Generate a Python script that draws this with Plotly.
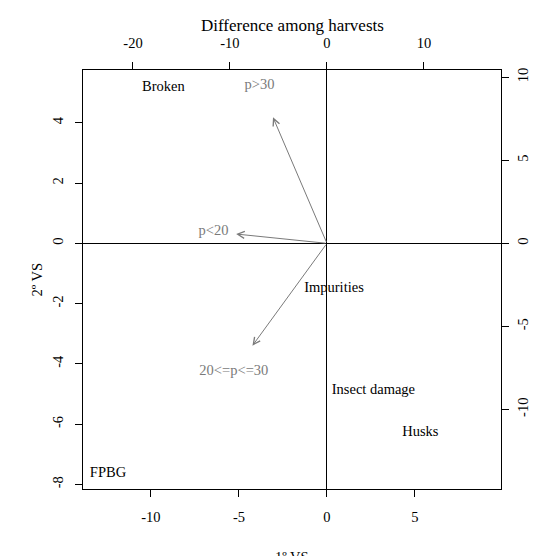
import plotly.graph_objects as go

# --- data ---
obs_labels = ["Broken", "Impurities", "Insect damage", "Husks", "FPBG"]
obs_x = [-9.29, 0.40, 2.64, 5.31, -12.44]
obs_y = [5.19, -1.48, -4.87, -6.27, -7.62]

var_labels = ["p>30", "p<20", "20<=p<=30"]
var_x = [-6.95, -11.70, -9.60]
var_y = [9.48, 0.70, -7.70]
arrow_frac = 0.8

x1_ticks = [-10, -5, 0, 5]
y1_ticks = [-8, -6, -4, -2, 0, 2, 4]
x2_ticks = [-20, -10, 0, 10]
y2_ticks = [-10, -5, 0, 5, 10]

x1_range = [-13.86, 9.89]
y1_range = [-8.15, 5.75]
ratio = 0.551
x2_range = [v / ratio for v in x1_range]
y2_range = [v / ratio for v in y1_range]

FONT = "Liberation Serif"
GRAY = "#7a7a7a"
TS = 14.5

fig = go.Figure()
fig.add_trace(go.Scatter(
    x=obs_x, y=obs_y, mode="text", text=obs_labels,
    textposition="middle center",
    textfont=dict(family=FONT, size=TS, color="black"),
    xaxis="x", yaxis="y", showlegend=False, hoverinfo="skip"))
fig.add_trace(go.Scatter(
    x=var_x, y=var_y, mode="text", text=var_labels,
    textposition="middle center",
    textfont=dict(family=FONT, size=TS, color=GRAY),
    xaxis="x2", yaxis="y2", showlegend=False, hoverinfo="skip"))

annotations = []
for vx, vy in zip(var_x, var_y):
    annotations.append(dict(
        x=vx * arrow_frac, y=vy * arrow_frac, xref="x2", yref="y2",
        ax=0, ay=0, axref="x2", ayref="y2", text="", showarrow=True,
        arrowhead=5, arrowsize=1.35, arrowwidth=1, arrowcolor=GRAY,
        standoff=0, startstandoff=0))

annotations += [
    dict(text="Difference among harvests", xref="paper", yref="paper",
         x=0.5, y=1, yshift=45, showarrow=False,
         font=dict(family=FONT, size=17, color="black"),
         xanchor="center", yanchor="middle"),
    dict(text="1º VS", xref="paper", yref="paper", x=0.5, y=0, yshift=-68,
         showarrow=False, font=dict(family=FONT, size=TS, color="black"),
         xanchor="center", yanchor="middle"),
    dict(text="2º VS", xref="paper", yref="paper", x=0, y=0.5, xshift=-47,
         textangle=-90, showarrow=False,
         font=dict(family=FONT, size=TS, color="black"),
         xanchor="center", yanchor="middle"),
]


def tick_text(vals):
    return [str(v) for v in vals]


axis_common = dict(showgrid=False, ticks="outside", ticklen=7, tickwidth=1,
                   tickcolor="black", automargin=False,
                   tickfont=dict(family=FONT, size=TS, color="black"))

fig.update_layout(
    width=536, height=556,
    margin=dict(l=83, r=35, t=70, b=67, pad=0, autoexpand=False),
    paper_bgcolor="white", plot_bgcolor="white",
    showlegend=False,
    xaxis=dict(range=x1_range, tickvals=x1_ticks, ticktext=tick_text(x1_ticks),
               showline=True, mirror=True,
               linecolor="black", linewidth=1, zeroline=True, zerolinecolor="black",
               zerolinewidth=1, ticklabelstandoff=8, **axis_common),
    yaxis=dict(range=y1_range, tickvals=y1_ticks, ticktext=tick_text(y1_ticks),
               showline=True, mirror=True,
               linecolor="black", linewidth=1, zeroline=True, zerolinecolor="black",
               zerolinewidth=1, tickangle=-90, ticklabelstandoff=6, **axis_common),
    xaxis2=dict(range=x2_range, tickvals=x2_ticks, ticktext=tick_text(x2_ticks),
                overlaying="x", side="top",
                anchor="y", showline=False, zeroline=False, ticklabelstandoff=8,
                **axis_common),
    yaxis2=dict(range=y2_range, tickvals=y2_ticks, ticktext=tick_text(y2_ticks),
                overlaying="y", side="right",
                anchor="x", showline=False, zeroline=False, tickangle=-90,
                ticklabelstandoff=2, **axis_common),
    annotations=annotations,
)

fig.write_html("out.html")
